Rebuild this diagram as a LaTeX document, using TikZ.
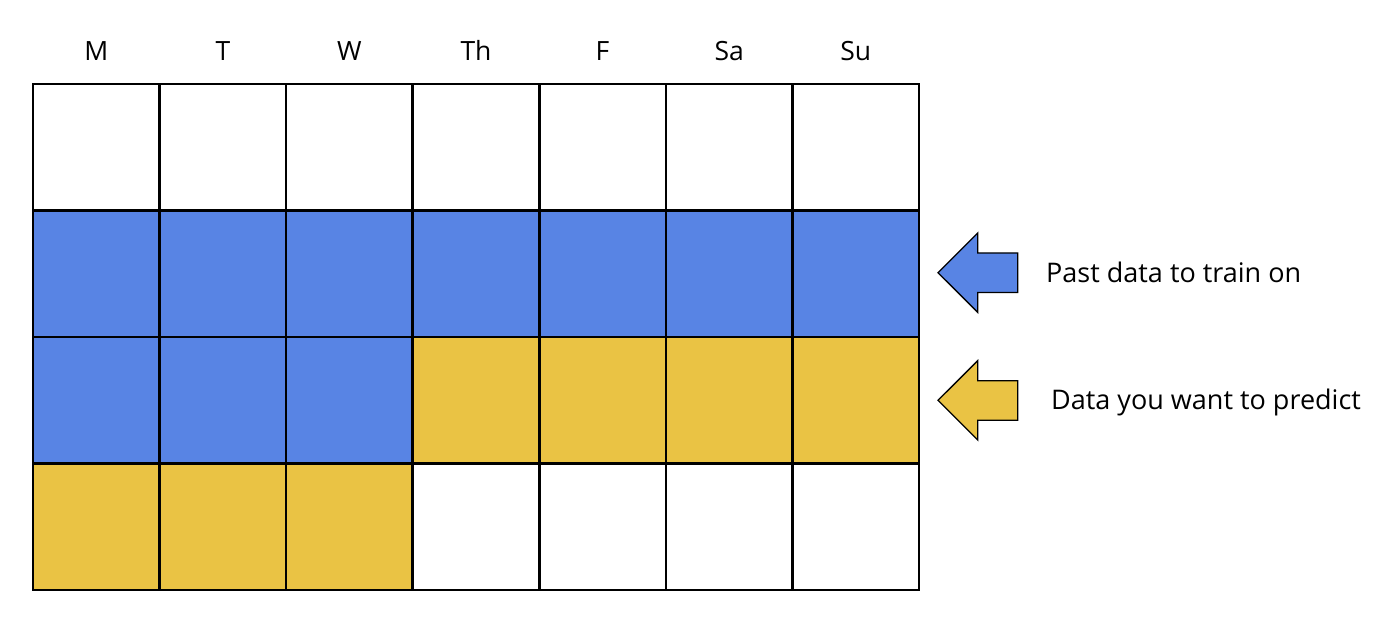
\documentclass[tikz,border=0pt]{standalone}
\usepackage{fontspec}
\setmainfont{Open Sans}
\definecolor{cblue}{RGB}{88,132,228}
\definecolor{cyel}{RGB}{234,195,68}
\begin{document}
\begin{tikzpicture}[x=1pt,y=-1pt,
  cell/.style={draw=black,line width=2.6pt},
  hdr/.style={font=\fontsize{26.5}{30}\selectfont,anchor=base,inner sep=0pt},
  lbl/.style={font=\fontsize{27}{32}\selectfont,anchor=base west,inner sep=0pt},
  arr/.style={draw=black,line width=1.3pt,line join=miter}]
\useasboundingbox (0,0) rectangle (1390,628);
\def\cw{126.57}
\def\rh{126.5}
% fills
\foreach \r/\cols/\c in {1/{0,1,2,3,4,5,6}/cblue,2/{0,1,2}/cblue,2/{3,4,5,6}/cyel,3/{0,1,2}/cyel}{
  \foreach \k in \cols {
    \fill[\c] (33+\k*\cw,84+\r*\rh) rectangle (33+\k*\cw+\cw,84+\r*\rh+\rh);
  }
}
% grid
\foreach \k in {0,...,7} \draw[cell] (33+\k*\cw,84) -- (33+\k*\cw,590);
\foreach \r in {0,...,4} \draw[cell,line cap=rect] (33,84+\r*\rh) -- (919,84+\r*\rh);
% headers
\foreach \k/\t in {0/M,1/T,2/W,3/Th,4/F,5/Sa,6/Su}
  \node[hdr] (h\k) at (33+\k*\cw+\cw/2,60.7) {\t};
% arrows
\draw[arr,fill=cblue] (938,272.7) -- (977.7,233) -- (977.7,253) -- (1017.7,253) -- (1017.7,292.5) -- (977.7,292.5) -- (977.7,312.3) -- cycle;
\draw[arr,fill=cyel] (938,400.3) -- (977.7,360.7) -- (977.7,380.7) -- (1017.7,380.7) -- (1017.7,420.3) -- (977.7,420.3) -- (977.7,440) -- cycle;
\node[lbl] (l1) at (1046,282.7) {Past data to train on};
\node[lbl] (l2) at (1051,409.5) {Data you want to predict};
\end{tikzpicture}
\end{document}
